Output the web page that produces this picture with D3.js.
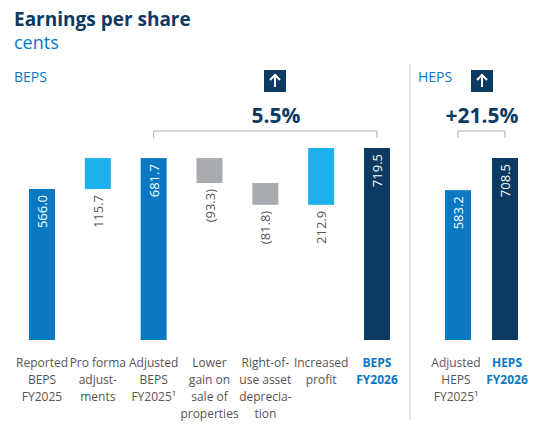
<!DOCTYPE html><html><head><meta charset="utf-8"><script src="https://cdn.jsdelivr.net/npm/d3@7"></script>
<style>body{margin:0;background:#fff}text{font-family:"Open Sans",sans-serif}</style></head><body>
<svg id="c" width="555" height="429"></svg>
<script>
const categories=[["Reported","BEPS","FY2025"],["Pro forma","adjust-","ments"],["Adjusted","BEPS","FY2025¹"],["Lower","gain on","sale of","properties"],["Right-of-","use asset","deprecia-","tion"],["Increased","profit"],["BEPS","FY2026"]];
const values=[566.0,115.7,681.7,-93.3,-81.8,212.9,719.5];
const kinds=["total","delta","total","delta","delta","delta","final"];
const hepsCats=[["Adjusted","HEPS","FY2025¹"],["HEPS","FY2026"]];
const hepsValues=[583.2,708.5];
const svg=d3.select("#c");
const col={total:"#0a78c2",pos:"#1eb0ea",neg:"#a8acb0",final:"#0b3a63"};
svg.append("text").attr("x",14).attr("y",26).attr("font-size",19).attr("font-weight",700).attr("fill","#0b3a63").text("Earnings per share");
svg.append("text").attr("x",14).attr("y",49).attr("font-size",18).attr("fill","#0a78c2").text("cents");
svg.append("text").attr("x",14).attr("y",82).attr("font-size",14).attr("fill","#0a78c2").text("BEPS");
svg.append("text").attr("x",418).attr("y",82).attr("font-size",14).attr("fill","#0a78c2").text("HEPS");
svg.append("line").attr("x1",410).attr("x2",410).attr("y1",64).attr("y2",420).attr("stroke","#ccc");
const x=d3.scalePoint().domain(d3.range(7)).range([42,377]);
const bw=26;
const y=d3.scaleLinear().domain([0,719.5]).range([340,148]);
let cum=0;
values.forEach((v,i)=>{
 let a,b,c;
 if(kinds[i]==="delta"){a=cum;b=cum+v;cum=b;c=v>0?col.pos:col.neg;}
 else{a=0;b=v;cum=v;c=kinds[i]==="final"?col.final:col.total;}
 const top=y(Math.max(a,b)),bot=y(Math.min(a,b));
 const cx=x(i);
 svg.append("rect").attr("x",cx-bw/2).attr("y",top).attr("width",bw).attr("height",bot-top).attr("fill",c);
 const lbl=v<0?"("+(-v).toFixed(1)+")":v.toFixed(1);
 if(kinds[i]==="delta"){
  svg.append("text").attr("transform",`translate(${cx+5},${bot+6}) rotate(-90)`).attr("text-anchor","end").attr("font-size",13).attr("fill","#555").text(lbl);
 } else {
  svg.append("text").attr("transform",`translate(${cx+5},${top+6}) rotate(-90)`).attr("text-anchor","end").attr("font-size",13).attr("fill","#fff").text(lbl);
 }
 categories[i].forEach((t,k)=>{
  const last=i===6;
  svg.append("text").attr("x",cx).attr("y",367+k*17).attr("text-anchor","middle").attr("font-size",12).attr("fill",last?"#0a78c2":"#555").attr("font-weight",last?700:400).text(t);
 });
});
const x2=d3.scalePoint().domain([0,1]).range([458,505]);
const y2=d3.scaleLinear().domain([0,708.5]).range([340,158]);
hepsValues.forEach((v,i)=>{
 const cx=x2(i);
 svg.append("rect").attr("x",cx-13).attr("y",y2(v)).attr("width",26).attr("height",340-y2(v)).attr("fill",i?col.final:col.total);
 svg.append("text").attr("transform",`translate(${cx+5},${y2(v)+6}) rotate(-90)`).attr("text-anchor","end").attr("font-size",13).attr("fill","#fff").text(v.toFixed(1));
 hepsCats[i].forEach((t,k)=>{
  svg.append("text").attr("x",cx+(i?2:-2)).attr("y",367+k*17).attr("text-anchor","middle").attr("font-size",12).attr("fill",i?"#0a78c2":"#555").attr("font-weight",i?700:400).text(t);
 });
});
function bracket(x1,x2b,yy){svg.append("path").attr("d",`M${x1},${yy+7}V${yy}H${x2b}V${yy+7}`).attr("fill","none").attr("stroke","#aaa");}
bracket(x(2),x(6),131);
bracket(x2(0),x2(1),131);
function arrow(cx){const g=svg.append("g").attr("transform",`translate(${cx},81)`);
 g.append("rect").attr("x",-11).attr("y",-11).attr("width",22).attr("height",22).attr("fill","#0b3a63");
 g.append("path").attr("d","M0,-6V6M-5,-1L0,-6L5,-1").attr("stroke","#fff").attr("stroke-width",2).attr("fill","none");}
arrow(275);arrow(482);
svg.append("text").attr("x",276).attr("y",123).attr("text-anchor","middle").attr("font-size",21).attr("font-weight",700).attr("fill","#0b3a63").text("5.5%");
svg.append("text").attr("x",482).attr("y",123).attr("text-anchor","middle").attr("font-size",21).attr("font-weight",700).attr("fill","#0b3a63").text("+21.5%");
</script></body></html>
